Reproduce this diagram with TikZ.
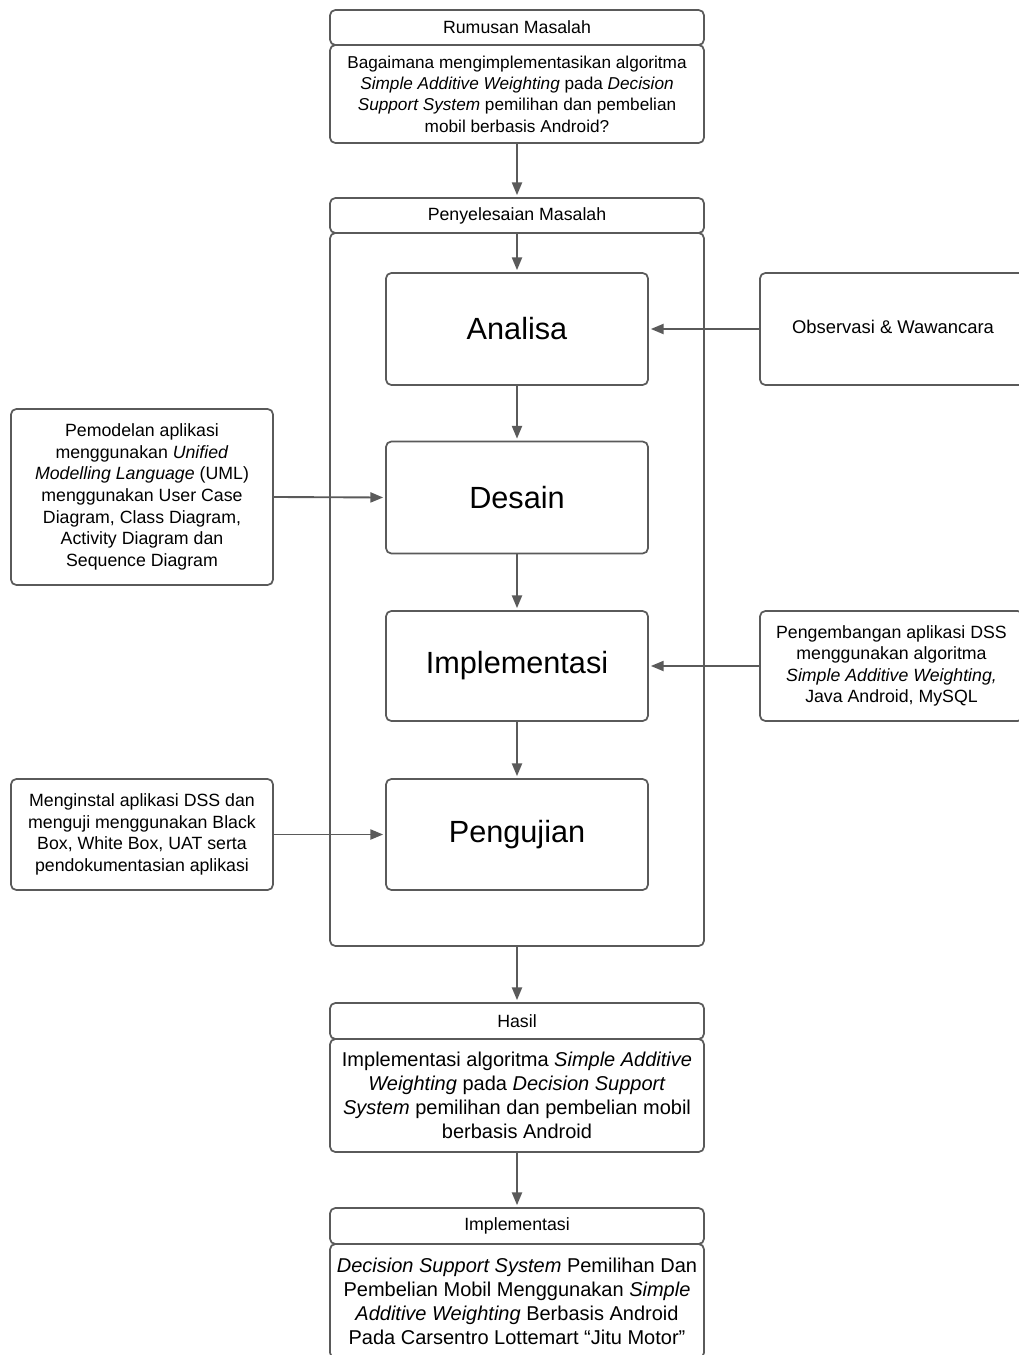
\documentclass[tikz,border=0pt]{standalone}
\usepackage{fontspec}
\setmainfont{Liberation Sans}
\usetikzlibrary{arrows.meta}
\definecolor{linegray}{HTML}{5A5A5A}
\tikzset{
  box/.style={draw=linegray, line width=1.3pt, rounded corners=4pt, fill=white,
    inner sep=0pt, align=center, font=\fontsize{13.3}{16.2}\selectfont},
  bigbox/.style={box, font=\fontsize{23}{27}\selectfont},
  bodybig/.style={box, font=\fontsize{15}{18}\selectfont},
  conn/.style={draw=linegray, line width=1.4pt,
    -{Triangle[length=9.5pt,width=7.5pt]}, shorten >=1.5pt, color=linegray}
}
\begin{document}
\begin{tikzpicture}[x=0.75pt,y=-0.75pt]
\clip (0,0) rectangle (1019,1355);
\fill[white] (0,0) rectangle (1019,1355);

% top
\node[box, minimum width=280.5pt, minimum height=26.25pt] (rh) at (517,27.5) {\raisebox{-1pt}{Rumusan Masalah}};
\node[box, minimum width=280.5pt, minimum height=73.5pt, font=\fontsize{12.9}{16}\selectfont] (rb) at (517,94)
  {Bagaimana mengimplementasikan algoritma\\
   \textit{Simple Additive Weighting} pada \textit{Decision}\\
   \textit{Support System} pemilihan dan pembelian\\
   mobil berbasis Android?};

% container
\node[box, minimum width=280.5pt, minimum height=534.75pt] (cont) at (517,589.5) {};
\node[box, minimum width=280.5pt, minimum height=26.25pt] (ph) at (517,215.5) {\raisebox{-1pt}{Penyelesaian Masalah}};

% inner steps
\node[bigbox, minimum width=196.5pt, minimum height=84pt] (ana) at (517,329) {Analisa};
\node[bigbox, minimum width=196.5pt, minimum height=84pt] (des) at (517,497.5) {Desain};
\node[bigbox, minimum width=196.5pt, minimum height=82.5pt] (imp) at (517,666) {\raisebox{-4pt}{Implementasi}};
\node[bigbox, minimum width=196.5pt, minimum height=83.25pt] (pen) at (517,834.5) {\raisebox{-2pt}{Pengujian}};

% side boxes
\node[box, minimum width=199.5pt, minimum height=84pt] (obs) at (893,329)
  {\raisebox{3pt}{\fontsize{13.8}{16.2}\selectfont Observasi \& Wawancara}};
\node[box, minimum width=196.5pt, minimum height=132pt] (pem) at (142,497)
  {Pemodelan aplikasi\\
   menggunakan \textit{Unified}\\
   \textit{Modelling Language} (UML)\\
   menggunakan User Case\\
   Diagram, Class Diagram,\\
   Activity Diagram dan\\
   Sequence Diagram};
\node[box, minimum width=197.25pt, minimum height=82.5pt] (peng) at (891.5,666)
  {Pengembangan aplikasi DSS\\
   menggunakan algoritma\\
   \textit{Simple Additive Weighting,}\\
   Java Android, MySQL};
\node[box, minimum width=196.5pt, minimum height=83.25pt] (meng) at (142,834.5)
  {Menginstal aplikasi DSS dan\\
   menguji menggunakan Black\\
   Box, White Box, UAT serta\\
   pendokumentasian aplikasi};

% bottom
\node[box, minimum width=280.5pt, minimum height=27pt] (hh) at (517,1021) {\raisebox{-1pt}{Hasil}};
\node[bodybig, minimum width=280.5pt, minimum height=84.75pt] (hb) at (517,1095.5)
  {Implementasi algoritma \textit{Simple Additive}\\
   \textit{Weighting} pada \textit{Decision Support}\\
   \textit{System} pemilihan dan pembelian mobil\\
   berbasis Android};
\node[box, minimum width=280.5pt, minimum height=27pt] (ih) at (517,1226) {\raisebox{-1pt}{Implementasi}};
\node[bodybig, minimum width=280.5pt, minimum height=85.5pt] (ib) at (517,1301)
  {\textit{Decision Support System} Pemilihan Dan\\
   Pembelian Mobil Menggunakan \textit{Simple}\\
   \textit{Additive Weighting} Berbasis Android\\
   Pada Carsentro Lottemart “Jitu Motor”};

% connectors
\draw[conn] (rb.south) -- (ph.north);
\draw[conn] (cont.north) -- (ana.north);
\draw[conn] (ana.south) -- (des.north);
\draw[conn] (des.south) -- (imp.north);
\draw[conn] (imp.south) -- (pen.north);
\draw[conn] (obs.west) -- (ana.east);
\draw[conn] (pem.east) -- (des.west);
\draw[conn] (peng.west) -- (imp.east);
\draw[conn] (meng.east) -- (pen.west);
\draw[conn] (cont.south) -- (hh.north);
\draw[conn] (hb.south) -- (ih.north);
\end{tikzpicture}
\end{document}
